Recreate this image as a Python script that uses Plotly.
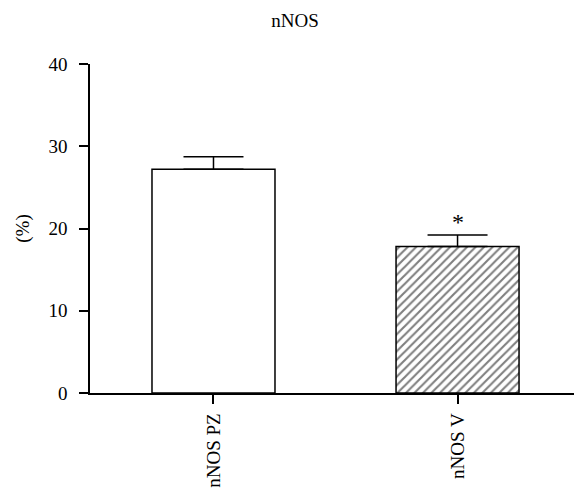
import plotly.graph_objects as go

categories = ["nNOS PZ", "nNOS V"]
values = [27.2, 17.8]
errors = [1.53, 1.42]
marks = ["", "*"]
y_ticks = [0, 10, 20, 30, 40]

FONT = "Liberation Serif"

fig = go.Figure()
fig.add_trace(go.Bar(
    x=categories,
    y=values,
    width=0.504,
    marker=dict(
        color="white",
        line=dict(color="black", width=1.5),
        pattern=dict(shape=["", "/"], fgcolor="black", bgcolor="white", size=6, solidity=0.35),
    ),
    error_y=dict(type="data", symmetric=False, array=errors, arrayminus=[0, 0],
                 color="black", thickness=1.5, width=30),
    showlegend=False,
))

for c, v, e, m in zip(categories, values, errors, marks):
    if m:
        fig.add_annotation(x=c, y=v + e, text=m, showarrow=False, yanchor="bottom",
                           yshift=-2, font=dict(family=FONT, size=24, color="black"))

# page has an 8px body margin, so the figure is offset by 8px
fig.update_layout(
    width=574, height=485,
    margin=dict(l=82, r=0, t=56, b=100),
    paper_bgcolor="white", plot_bgcolor="white",
    font=dict(family=FONT, size=19, color="black"),
    title=dict(text="nNOS", x=0.5, xanchor="center", y=0.975, yanchor="middle",
               font=dict(family=FONT, size=19, color="black")),
    xaxis=dict(range=[-0.506, 1.51], showline=True, linecolor="black", linewidth=1.5,
               ticks="outside", ticklen=9, tickcolor="black", tickwidth=1.5,
               tickangle=-90, showgrid=False, zeroline=False, ticklabelstandoff=2,
               tickfont=dict(family=FONT, size=19)),
    yaxis=dict(range=[0, 40], tickvals=y_ticks, showline=True, linecolor="black", linewidth=1.5,
               ticks="outside", ticklen=9, tickcolor="black", tickwidth=1.5,
               showgrid=False, zeroline=False, ticklabelstandoff=8,
               title=dict(text="(%)", standoff=14, font=dict(family=FONT, size=19)),
               tickfont=dict(family=FONT, size=19)),
)

fig.write_html("out.html")
